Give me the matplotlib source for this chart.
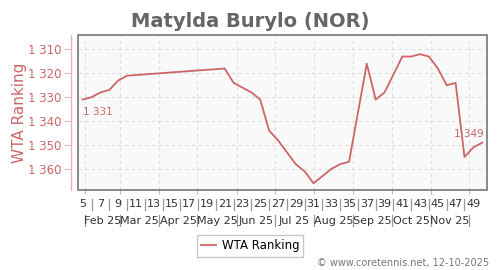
import datetime as dt
import matplotlib
matplotlib.use("Agg")
import matplotlib.pyplot as plt
from matplotlib.patches import Rectangle

# ISO weeks of 2025 and WTA ranking for each
weeks = [5, 6, 7, 8, 9, 10, 21, 22, 24, 25, 26, 27, 29, 30, 31, 33, 34, 35,
         37, 38, 39, 41, 42, 43, 44, 45, 46, 47, 48, 49, 50]
ranks = [1331, 1330, 1328, 1327, 1323, 1321, 1318, 1324, 1328, 1331, 1344, 1348,
         1358, 1361, 1366, 1360, 1358, 1357, 1316, 1331, 1328, 1313, 1313, 1312,
         1313, 1318, 1325, 1324, 1355, 1351, 1349]
yticks = [1310, 1320, 1330, 1340, 1350, 1360]
week_labels = list(range(5, 50, 2))
months = [2, 3, 4, 5, 6, 7, 8, 9, 10, 11]
month_names = ["Feb 25", "Mar 25", "Apr 25", "May 25", "Jun 25", "Jul 25",
               "Aug 25", "Sep 25", "Oct 25", "Nov 25"]

RED = "#cc6666"

def thu(w):
    return dt.datetime.combine(dt.date.fromisocalendar(2025, w, 4), dt.time(12))

def fmt(v):
    return f"{v:,}".replace(",", " ")

xs = [thu(w) for w in weeks]

fig = plt.figure(figsize=(5, 2.7), dpi=100)
ax = fig.add_axes([0.156, 0.2963, 0.818, 0.574])
ax.set_facecolor("#f9f9f9")

ax.plot(xs, ranks, color=RED, lw=1.3, label="WTA Ranking")

ax.set_ylim(1368.8, 1304)
ax.set_xlim(dt.datetime(2025, 1, 26, 20), dt.datetime(2025, 12, 15, 6))

ax.set_yticks(yticks)
ax.set_yticklabels([fmt(v) for v in yticks])
ax.tick_params(axis="y", length=5, color="#e3b5b5", pad=2,
               labelcolor=RED, labelsize=8.5)
ax.set_ylabel("WTA Ranking", color=RED, fontsize=11)
ax.yaxis.set_label_coords(-0.124, 0.5)

bounds = [dt.datetime(2025, m, 1) for m in months] + [dt.datetime(2025, 12, 1)]
ax.set_xticks(bounds)
ax.set_xticklabels([])
ax.tick_params(axis="x", length=3, color="#bbbbbb")

ax.grid(True, color="#dddddd", ls=(0, (3, 3)), lw=0.8)
for s in ("top", "right", "bottom"):
    ax.spines[s].set_visible(False)
ax.spines["left"].set_position(("outward", 5))
ax.spines["left"].set_color("#e3b5b5")
ax.spines["left"].set_linewidth(1)
ax.add_patch(Rectangle((0, 0), 1, 1, transform=ax.transAxes, fill=False,
                       ec="#777777", lw=1.2, clip_on=False, zorder=5))

tr = ax.get_xaxis_transform()
for w in week_labels:
    ax.text(thu(w), -0.09, str(w), transform=tr, ha="center", va="center",
            fontsize=8, color="#333333")
for w in range(6, 50, 2):
    ax.plot([thu(w), thu(w)], [-0.055, -0.13], transform=tr, color="#999999",
            lw=0.9, clip_on=False)
for b in bounds:
    ax.plot([b, b], [-0.16, -0.235], transform=tr, color="#999999",
            lw=0.9, clip_on=False)
for i, name in enumerate(month_names):
    mid = bounds[i] + (bounds[i + 1] - bounds[i]) / 2
    ax.text(mid, -0.2, name, transform=tr, ha="center", va="center",
            fontsize=8, color="#333333")

ax.annotate(fmt(ranks[0]), (xs[0], ranks[0]),
            xytext=(0, -9), textcoords="offset points", ha="left", va="center",
            fontsize=7.5, color=RED)
ax.annotate(fmt(ranks[-1]), (xs[-1], ranks[-1]),
            xytext=(1, 6.5), textcoords="offset points", ha="right", va="center",
            fontsize=7.5, color=RED)

fig.suptitle("Matylda Burylo (NOR)", x=0.5, y=0.955, fontsize=14,
             fontweight="bold", color="#666666")

fig.legend(loc="center", bbox_to_anchor=(0.5, 0.089), fontsize=8.5, frameon=True,
           fancybox=False, edgecolor="#bbbbbb", handlelength=1.3,
           borderpad=0.35, handletextpad=0.45)

fig.text(0.978, 0.025, "\u00a9 www.coretennis.net, 12-10-2025", ha="right",
         va="center", fontsize=7, color="#777777")

fig.savefig("out.png", dpi=100)
